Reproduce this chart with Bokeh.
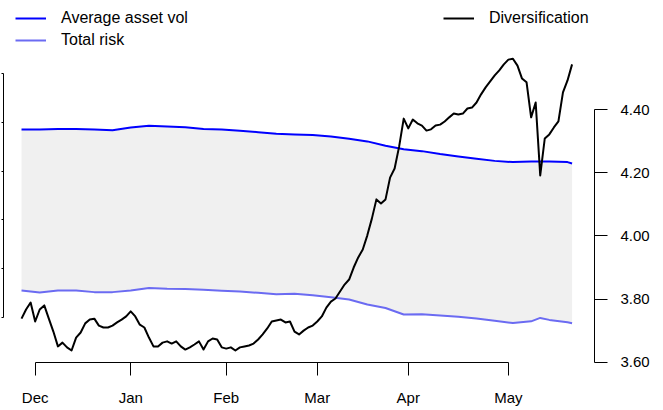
from bokeh.plotting import figure
from bokeh.models import (Range1d, LinearAxis, FixedTicker, Legend, LegendItem,
                          NumeralTickFormatter)
from bokeh.embed import file_html
from bokeh.resources import INLINE

# ---------------- data ----------------
months = ["Dec", "Jan", "Feb", "Mar", "Apr", "May"]
month_pos = [3, 24, 45, 65, 85, 107]          # trading-day index of month starts

diversification = [
    3.738, 3.767, 3.789, 3.729, 3.767, 3.780, 3.738, 3.697, 3.650, 3.662,
    3.647, 3.637, 3.678, 3.694, 3.723, 3.735, 3.738, 3.716, 3.710, 3.710,
    3.716, 3.726, 3.735, 3.745, 3.761, 3.745, 3.719, 3.710, 3.678, 3.650,
    3.650, 3.662, 3.666, 3.659, 3.666, 3.650, 3.640, 3.647, 3.656, 3.666,
    3.640, 3.666, 3.675, 3.672, 3.647, 3.643, 3.647, 3.637, 3.647, 3.650,
    3.653, 3.659, 3.672, 3.688, 3.707, 3.729, 3.732, 3.735, 3.726, 3.729,
    3.697, 3.688, 3.700, 3.710, 3.716, 3.729, 3.745, 3.773, 3.792, 3.802,
    3.824, 3.846, 3.862, 3.900, 3.932, 3.957, 4.002, 4.055, 4.116, 4.103,
    4.116, 4.185, 4.214, 4.284, 4.372, 4.341, 4.369, 4.357, 4.350, 4.334,
    4.338, 4.350, 4.353, 4.363, 4.376, 4.388, 4.385, 4.388, 4.404, 4.407,
    4.423, 4.449, 4.471, 4.490, 4.509, 4.525, 4.544, 4.559, 4.562, 4.540,
    4.499, 4.487, 4.376, 4.423, 4.192, 4.309, 4.322, 4.344, 4.363, 4.455,
    4.493, 4.544,
]
day = list(range(len(diversification)))

risk_day = [0, 4, 8, 12, 16, 20, 24, 28, 32, 36, 40, 44, 48, 52, 56, 60,
            64, 68, 72, 76, 80, 84, 88, 92, 96, 100, 104, 108, 112, 114,
            116, 120, 121]
avg_asset_vol = [13.71, 13.71, 13.73, 13.73, 13.71, 13.68, 13.79, 13.86,
                 13.83, 13.80, 13.73, 13.71, 13.66, 13.60, 13.53, 13.50,
                 13.48, 13.42, 13.33, 13.22, 13.04, 12.90, 12.82, 12.70,
                 12.60, 12.51, 12.42, 12.37, 12.39, 12.39, 12.39, 12.37,
                 12.31]
total_risk = [7.10, 7.01, 7.10, 7.10, 7.03, 7.03, 7.10, 7.20, 7.17, 7.16,
              7.13, 7.09, 7.06, 7.00, 6.94, 6.96, 6.90, 6.82, 6.73, 6.52,
              6.38, 6.11, 6.12, 6.07, 6.02, 5.95, 5.85, 5.76, 5.83, 5.97,
              5.89, 5.79, 5.75]

risk_ticks = [6, 8, 10, 12, 14, 16]
div_ticks = [3.6, 3.8, 4.0, 4.2, 4.4]

FONT = "Liberation Sans"

# ---------------- figure ----------------
# the frame reaches the top edge so the legends (above the data) lie inside it
p = figure(width=662, height=409, output_backend="svg", toolbar_location=None,
           x_range=Range1d(-3.96, 125.93), y_range=Range1d(4.140, 19.006),
           x_axis_location=None, y_axis_location=None,
           min_border_left=3, min_border_right=68, min_border_top=0,
           min_border_bottom=47)
p.extra_y_ranges = {"div": Range1d(3.599, 4.7464)}
p.outline_line_color = None
p.background_fill_color = "white"
p.border_fill_color = "white"
for g in p.grid:
    g.visible = False

# axes
xaxis = LinearAxis(ticker=FixedTicker(ticks=month_pos, minor_ticks=[]),
                   bounds=(month_pos[0], month_pos[-1]),
                   major_label_overrides={k: v for k, v in zip(month_pos, months)})
yaxis_r = LinearAxis(y_range_name="div",
                     ticker=FixedTicker(ticks=div_ticks, minor_ticks=[]),
                     bounds=(div_ticks[0], div_ticks[-1]),
                     formatter=NumeralTickFormatter(format="0.00"))
yaxis_l = LinearAxis(ticker=FixedTicker(ticks=risk_ticks, minor_ticks=[]),
                     bounds=(risk_ticks[0], risk_ticks[-1]),
                     major_label_overrides={t: "" for t in risk_ticks})
for ax in (xaxis, yaxis_r, yaxis_l):
    ax.axis_line_color = "black"
    ax.major_tick_line_color = "black"
    ax.major_tick_in = 0
    ax.minor_tick_in = 0
    ax.minor_tick_out = 0
    ax.major_label_text_font = FONT
    ax.major_label_text_font_size = "15px"
    ax.major_label_text_color = "black"
xaxis.major_tick_out = 13
xaxis.major_label_standoff = 13
yaxis_r.major_tick_out = 13
yaxis_r.major_label_standoff = 13
yaxis_l.major_tick_out = 2
yaxis_l.major_label_standoff = 0
p.add_layout(xaxis, "below")
p.add_layout(yaxis_r, "right")
p.add_layout(yaxis_l, "left")

# band and lines
p.varea(x=risk_day, y1=total_risk, y2=avg_asset_vol, fill_color="#F0F0F0")
r_avg = p.line(risk_day, avg_asset_vol, line_color="#0000FF", line_width=2,
               line_join="round")
r_tot = p.line(risk_day, total_risk, line_color="#6B6BF2", line_width=2,
               line_join="round")
r_div = p.line(day, diversification, y_range_name="div", line_color="black",
               line_width=2, line_join="round")

def make_legend(items, loc):
    return Legend(items=items, location=loc, border_line_color=None,
                  background_fill_alpha=0, padding=0, margin=0, spacing=4,
                  glyph_width=31, glyph_height=18, label_height=18,
                  label_standoff=15, label_text_font=FONT,
                  label_text_font_size="16px", label_text_color="black")

leg1 = make_legend([LegendItem(label="Average asset vol", renderers=[r_avg]),
                    LegendItem(label="Total risk", renderers=[r_tot])], (12, 313))
leg2 = make_legend([LegendItem(label="Diversification", renderers=[r_div])], (440, 335))
p.add_layout(leg1, "center")
p.add_layout(leg2, "center")

open("out.html", "w").write(file_html(p, INLINE))
